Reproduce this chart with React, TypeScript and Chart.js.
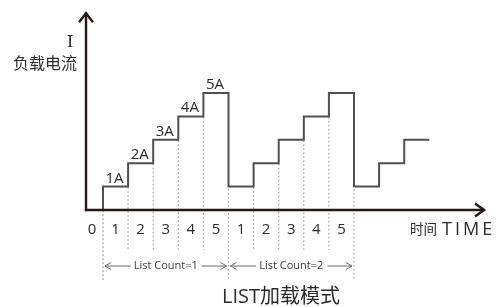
import React, { useEffect, useRef } from 'react';
import { Chart, registerables } from 'chart.js';

Chart.register(...registerables);

// ---- data ----
const stepTimes = [0, 1, 2, 3, 4, 5, 6, 7, 8, 9, 10, 11, 12, 13];
const stepLevels = [1, 2, 3, 4, 5, 1, 2, 3, 4, 5, 1, 2, 3, 3];
const tickPositions = [-0.44, 0.5, 1.5, 2.5, 3.5, 4.5, 5.5, 6.5, 7.5, 8.5, 9.5];
const tickLabels = ['0', '1', '2', '3', '4', '5', '1', '2', '3', '4', '5'];
const ampLabels = ['1A', '2A', '3A', '4A', '5A'];
const ampTimes = [0.5, 1.5, 2.5, 3.5, 4.5];
const ampLevels = [1, 2, 3, 4, 5];
const shortGuideTimes = [1, 2, 3, 4, 6, 7, 8, 9];
const longGuideTimes = [0, 5, 10];
const listCountLabels = ['List Count=1', 'List Count=2'];
const listCountStarts = [0, 5];
const listCountEnds = [5, 10];
const yAxisTitle = 'I';
const yAxisName = '负载电流';
const xAxisName = '时间';
const xAxisUnit = 'TIME';
const chartTitle = 'LIST加载模式';

const X_MIN = -4.104;
const X_MAX = 15.777;
const Y_MIN = -4.145;
const Y_MAX = 8.974;

function levelAround(t: number): number {
  const i = stepTimes.indexOf(t);
  const cur = i >= 0 ? stepLevels[i] : 0;
  const prev = i > 0 ? stepLevels[i - 1] : 0;
  return Math.max(cur, prev);
}

const CJK = '"Open Sans", "Noto Sans CJK SC", sans-serif';

const decorPlugin = {
  id: 'decor',
  afterDatasetsDraw(chart: any) {
    const ctx = chart.ctx as CanvasRenderingContext2D;
    const xs = chart.scales.x;
    const ys = chart.scales.y;
    const X = (v: number) => xs.getPixelForValue(v);
    const Y = (v: number) => ys.getPixelForValue(v);
    ctx.save();

    // axes
    const axisColor = '#231815';
    ctx.strokeStyle = axisColor;
    ctx.lineWidth = 2.4;
    ctx.lineCap = 'butt';
    const ax = X(-0.677);
    const ay = Y(0);
    ctx.beginPath();
    ctx.moveTo(ax, ay + 1.2);
    ctx.lineTo(ax, Y(8.45));
    ctx.stroke();
    ctx.beginPath();
    ctx.moveTo(ax - 1.2, ay);
    ctx.lineTo(X(15.22), ay);
    ctx.stroke();
    // arrow heads
    ctx.lineJoin = 'miter';
    ctx.beginPath();
    const ty = Y(8.45);
    ctx.moveTo(ax - 7, ty + 10);
    ctx.lineTo(ax, ty + 1);
    ctx.lineTo(ax + 7, ty + 10);
    ctx.stroke();
    const tx = X(15.22);
    ctx.beginPath();
    ctx.moveTo(tx - 10, ay - 6.5);
    ctx.lineTo(tx - 1, ay);
    ctx.lineTo(tx - 10, ay + 6.5);
    ctx.stroke();

    // tick labels
    ctx.fillStyle = '#2b2b2b';
    ctx.font = `15px ${CJK}`;
    ctx.textAlign = 'center';
    ctx.textBaseline = 'middle';
    tickPositions.forEach((p, i) => ctx.fillText(tickLabels[i], X(p), Y(-0.855)));

    // amp labels
    ctx.font = `15px ${CJK}`;
    ctx.textBaseline = 'alphabetic';
    ampLabels.forEach((l, i) => ctx.fillText(l, X(ampTimes[i]) - 1, Y(ampLevels[i]) - 4));

    // axis names
    ctx.font = '17px "DejaVu Serif", serif';
    ctx.textBaseline = 'middle';
    ctx.fillText(yAxisTitle, 70, 43);
    ctx.font = `16px ${CJK}`;
    ctx.fillText(yAxisName, 45, 64);

    ctx.textAlign = 'left';
    ctx.font = `13.5px ${CJK}`;
    ctx.fillText(xAxisName, 410, 230);
    ctx.font = `18px ${CJK}`;
    (ctx as any).letterSpacing = '3px';
    ctx.fillText(xAxisUnit, 442, 230);
    (ctx as any).letterSpacing = '0px';

    // title
    ctx.textAlign = 'center';
    ctx.font = `20px ${CJK}`;
    ctx.fillText(chartTitle, 281, 297);

    // list count arrows
    ctx.font = `11px ${CJK}`;
    ctx.strokeStyle = '#6a6a6a';
    ctx.lineWidth = 1;
    const ly = Y(-2.393);
    listCountLabels.forEach((l, i) => {
      const x0 = X(listCountStarts[i]) + 2;
      const x1 = X(listCountEnds[i]) - 2;
      const cx = (x0 + x1) / 2;
      const w = ctx.measureText(l).width;
      ctx.fillStyle = '#3a3a3a';
      ctx.textAlign = 'center';
      ctx.fillText(l, cx, ly);
      const tl = cx - w / 2 - 3;
      const tr = cx + w / 2 + 4;
      ctx.beginPath();
      ctx.moveTo(x0, ly);
      ctx.lineTo(tl, ly);
      ctx.moveTo(x0 + 6, ly - 3.5);
      ctx.lineTo(x0, ly);
      ctx.lineTo(x0 + 6, ly + 3.5);
      ctx.moveTo(tr, ly);
      ctx.lineTo(x1, ly);
      ctx.moveTo(x1 - 6, ly - 3.5);
      ctx.lineTo(x1, ly);
      ctx.lineTo(x1 - 6, ly + 3.5);
      ctx.stroke();
    });

    ctx.restore();
  },
};

export default function App() {
  const ref = useRef<HTMLCanvasElement | null>(null);
  useEffect(() => {
    document.body.style.margin = '0';
    if (!ref.current) return;

    const stepData = [{ x: stepTimes[0], y: 0 }].concat(
      stepTimes.map((t, i) => ({ x: t, y: stepLevels[i] }))
    );
    const guideData: any[] = [];
    shortGuideTimes.forEach((t) => {
      guideData.push({ x: t, y: levelAround(t) }, { x: t, y: -1.7 }, { x: t, y: null });
    });
    longGuideTimes.forEach((t) => {
      guideData.push({ x: t, y: levelAround(t) }, { x: t, y: -3.0 }, { x: t, y: null });
    });

    const chart = new Chart(ref.current, {
      type: 'line',
      data: {
        datasets: [
          {
            data: stepData,
            stepped: 'before',
            borderColor: '#505050',
            borderWidth: 2,
            pointRadius: 0,
            fill: false,
            order: 0,
          } as any,
          {
            data: guideData,
            borderColor: '#9a9a9a',
            borderWidth: 1.2,
            borderDash: [1.5, 2.5],
            pointRadius: 0,
            spanGaps: false,
            fill: false,
            order: 1,
          } as any,
        ],
      },
      options: {
        animation: false,
        responsive: false,
        maintainAspectRatio: false,
        layout: { padding: 0 },
        plugins: { legend: { display: false }, tooltip: { enabled: false }, title: { display: false } },
        scales: {
          x: { type: 'linear', min: X_MIN, max: X_MAX, display: false },
          y: { type: 'linear', min: Y_MIN, max: Y_MAX, display: false },
        },
      },
      plugins: [decorPlugin],
    });
    return () => chart.destroy();
  }, []);

  return (
    <div style={{ position: 'absolute', left: 0, top: 0, width: 499, height: 307, background: '#fff' }}>
      <canvas ref={ref} width={499} height={307} style={{ width: 499, height: 307, display: 'block' }} />
    </div>
  );
}
